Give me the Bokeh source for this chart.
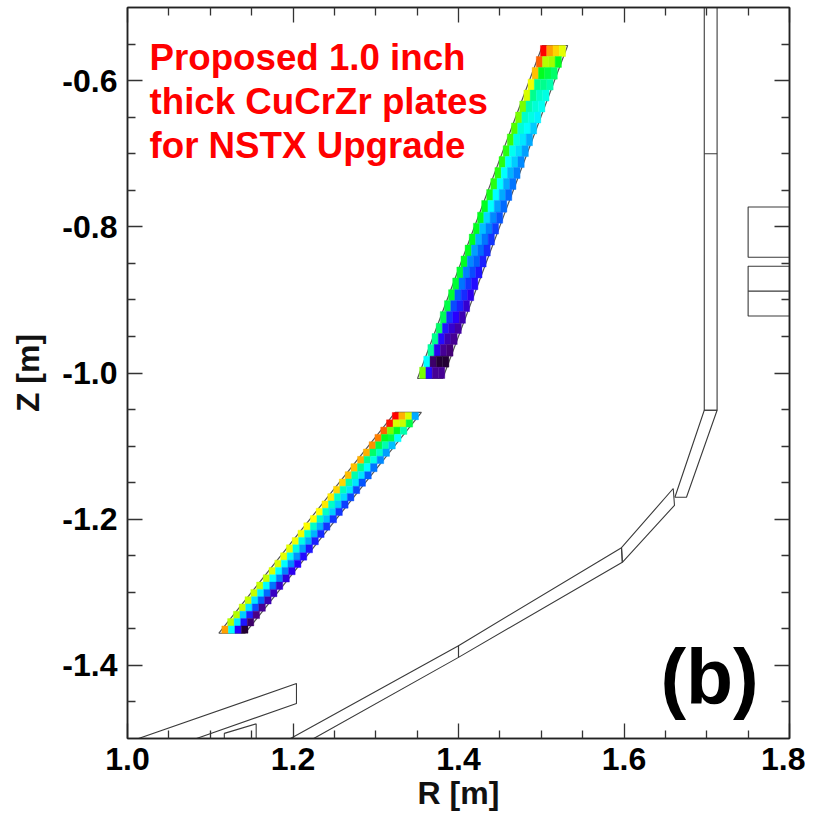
from bokeh.plotting import figure
from bokeh.embed import file_html
from bokeh.resources import INLINE
from bokeh.core.properties import value
from bokeh.models import (ColumnDataSource, LinearColorMapper, LinearAxis, FixedTicker, Range1d)

# ---- colour values (each row: inner to outer cell), top to bottom
upper_values = [
    [100, 82, 76, 68], [90, 62, 60, 52], [78, 52, 50, 48], [70, 46, 46, 44], [66, 46, 42, 40],
    [58, 44, 41, 39], [58, 42, 40, 37], [56, 41, 38, 34], [55, 40, 36, 31], [54, 39, 35, 30],
    [54, 38, 34, 28], [54, 38, 32, 27], [54, 38, 31, 26], [53, 38, 31, 25], [52, 38, 30, 25],
    [52, 35, 28, 23], [52, 33, 27, 21], [52, 32, 26, 20], [52, 30, 25, 19], [52, 28, 24, 18],
    [51, 27, 22, 17], [51, 26, 20, 16], [51, 24, 19, 14], [50, 22, 18, 12], [49, 20, 15, 10],
    [48, 17, 12, 9], [46, 16, 10, 8], [45, 14, 8, 6], [38, 5, 1, 1], [58, 16, 8, 8],
]
lower_values = [
    [100, 80, 66, 31], [98, 66, 64, 50], [90, 58, 52, 44], [86, 52, 50, 38], [84, 50, 44, 33],
    [80, 48, 42, 30], [80, 46, 40, 28], [78, 46, 38, 26], [78, 44, 36, 24], [76, 44, 36, 23],
    [76, 43, 36, 22], [74, 42, 35, 22], [74, 42, 34, 21], [72, 42, 34, 20], [72, 42, 33, 20],
    [72, 42, 32, 20], [70, 41, 32, 19], [70, 40, 31, 18], [68, 40, 30, 17], [68, 39, 29, 16],
    [66, 38, 28, 15], [66, 38, 27, 14], [64, 38, 27, 13], [64, 38, 26, 12], [64, 37, 25, 11],
    [64, 36, 24, 10], [64, 36, 22, 8], [62, 34, 18, 7], [62, 36, 17, 5], [82, 38, 15, 1],
]
upper_left = [1.499, 1.494, 1.489, 1.484, 1.479, 1.474, 1.469, 1.464, 1.459, 1.454, 1.449, 1.444, 1.439, 1.434, 1.428,
              1.423, 1.418, 1.413, 1.408, 1.403, 1.398, 1.393, 1.388, 1.383, 1.378, 1.373, 1.368, 1.363, 1.358, 1.353]
upper_top = [-0.552, -0.567, -0.582, -0.598, -0.613, -0.628, -0.643, -0.658, -0.673, -0.689, -0.704, -0.719, -0.734,
             -0.749, -0.764, -0.780, -0.795, -0.810, -0.825, -0.840, -0.855, -0.870, -0.886, -0.901, -0.916, -0.932,
             -0.946, -0.961, -0.977, -0.992, -1.0075]
upper_dr = 0.0076
lower_left = [1.320, 1.313, 1.306, 1.299, 1.292, 1.285, 1.278, 1.270, 1.263, 1.256, 1.249, 1.242, 1.235, 1.228, 1.221,
              1.213, 1.206, 1.199, 1.192, 1.185, 1.178, 1.171, 1.164, 1.156, 1.149, 1.142, 1.135, 1.128, 1.121, 1.114]
lower_top = [-1.054, -1.064, -1.074, -1.084, -1.094, -1.104, -1.114, -1.124, -1.135, -1.145, -1.155, -1.165, -1.175,
             -1.185, -1.195, -1.205, -1.215, -1.225, -1.235, -1.246, -1.256, -1.266, -1.276, -1.286, -1.296, -1.306,
             -1.316, -1.326, -1.336, -1.346, -1.356]
lower_dr = 0.0079

# ---- machine outlines (R, Z)
shapes = [
    ([1.697, 1.7125, 1.7125, 1.697], [-0.5, -0.5, -1.051, -1.051]),
    ([1.7125, 1.6755, 1.6615, 1.697], [-1.051, -1.170, -1.170, -1.051]),
    ([1.6595, 1.661, 1.598, 1.597], [-1.158, -1.181, -1.259, -1.239]),
    ([1.598, 1.40, 1.40, 1.597], [-1.259, -1.389, -1.373, -1.239]),
    ([1.40, 1.225, 1.197, 1.40], [-1.389, -1.50, -1.50, -1.373]),
    ([1.0133, 1.2042, 1.2042, 1.0834], [-1.50, -1.4248, -1.452, -1.50]),
    ([1.117, 1.117, 1.1555, 1.1555], [-1.50, -1.493, -1.48, -1.50]),
    ([1.75, 1.80, 1.80, 1.75], [-0.773, -0.773, -0.8416, -0.8416]),
    ([1.75, 1.80, 1.80, 1.75], [-0.854, -0.854, -0.922, -0.922]),
]
dividers_r = [[1.697, 1.7125], [1.75, 1.80]]
dividers_z = [[-0.70, -0.70], [-0.888, -0.888]]

x_ticks = [1.0, 1.2, 1.4, 1.6, 1.8]
y_ticks = [-1.4, -1.2, -1.0, -0.8, -0.6]
x_minor = [1.05, 1.1, 1.15, 1.25, 1.3, 1.35, 1.45, 1.5, 1.55, 1.65, 1.7, 1.75]
y_minor = [-1.45, -1.35, -1.3, -1.25, -1.15, -1.1, -1.05, -0.95, -0.9, -0.85, -0.75, -0.7, -0.65, -0.55]
x_labels = ["1.0", "1.2", "1.4", "1.6", "1.8"]
y_labels = ["-1.4", "-1.2", "-1.0", "-0.8", "-0.6"]
note_lines = ["Proposed 1.0 inch", "thick CuCrZr plates", "for NSTX Upgrade"]
note_z = [-0.568, -0.6286, -0.6888]
FONT = "Liberation Sans"

# colour scale: dark purple through blue, cyan, green, yellow, to red
stops = [(0, "#1e0028"), (7, "#4a0085"), (15, "#2800ff"), (24, "#0060ff"), (32, "#00b4ff"), (38, "#00ffff"),
         (45, "#00ffa0"), (52, "#00ff20"), (56, "#50ff00"), (60, "#a0ff00"), (66, "#d8ff00"), (72, "#ffff00"),
         (78, "#ffc000"), (84, "#ff9000"), (90, "#ff6000"), (100, "#ff0000")]


def palette_from(st, n=101):
    out = []
    for i in range(n):
        for (a, ca), (b, cb) in zip(st[:-1], st[1:]):
            if a <= i <= b:
                t = (i - a) / (b - a)
                rgb = [round(int(ca[k:k + 2], 16) * (1 - t) + int(cb[k:k + 2], 16) * t) for k in (1, 3, 5)]
                out.append("#%02x%02x%02x" % tuple(rgb))
                break
    return out


mapper = LinearColorMapper(palette=palette_from(stops), low=0, high=100)

p = figure(width=805, height=813, output_backend="svg", toolbar_location=None,
           x_range=Range1d(1.0, 1.8), y_range=Range1d(-1.5, -0.5),
           min_border_left=127, min_border_right=16, min_border_top=7, min_border_bottom=75)
p.grid.visible = False
p.outline_line_color = "#222222"
p.outline_line_width = 1.5


def style_axis(ax, ticks, minor, show):
    ax.ticker = FixedTicker(ticks=ticks, minor_ticks=minor)
    ax.major_tick_in = 15
    ax.major_tick_out = 0
    ax.minor_tick_in = 8
    ax.minor_tick_out = 0
    ax.axis_line_color = "#222222"
    ax.axis_line_width = 1.5
    ax.major_tick_line_color = "#333333"
    ax.minor_tick_line_color = "#333333"
    ax.major_tick_line_width = 1.3
    ax.minor_tick_line_width = 1.3
    if show:
        ax.major_label_text_font = FONT
        ax.major_label_text_font_style = "bold"
        ax.major_label_text_font_size = "32px"
        ax.major_label_text_color = "black"
        ax.axis_label_text_font = FONT
        ax.axis_label_text_font_style = "bold"
        ax.axis_label_text_font_size = "32px"
        ax.axis_label_text_color = "#111111"
    else:
        ax.major_label_text_font_size = "0px"
        ax.major_label_text_color = None


xa = p.xaxis[0]
ya = p.yaxis[0]
style_axis(xa, x_ticks, x_minor, True)
style_axis(ya, y_ticks, y_minor, True)
xa.major_label_overrides = dict(zip(x_ticks, x_labels))
ya.major_label_overrides = dict(zip(y_ticks, y_labels))
xa.major_label_standoff = 9
ya.major_label_standoff = 10
xa.axis_label = "R [m]"
ya.axis_label = "Z [m]"
xa.axis_label_standoff = 2
ya.axis_label_standoff = 13

top_ax = LinearAxis()
right_ax = LinearAxis()
style_axis(top_ax, x_ticks, x_minor, False)
style_axis(right_ax, y_ticks, y_minor, False)
top_ax.major_label_overrides = {t: "" for t in x_ticks}
right_ax.major_label_overrides = {t: "" for t in y_ticks}
p.add_layout(top_ax, "above")
p.add_layout(right_ax, "right")

for rs, zs in shapes:
    p.patch(rs, zs, fill_color=None, line_color="#3a3a3a", line_width=1.1)
p.multi_line(dividers_r, dividers_z, line_color="#3a3a3a", line_width=1.1)


def plate(values, left, top, dr):
    n = len(values)
    m = len(values[0])
    step = (left[0] - left[n - 1]) / (n - 1)
    # thin grey outline running through the middle of the stair-stepped cell edges
    p.patch([left[0] + step / 2, left[0] + m * dr + step / 2, left[n - 1] + m * dr - step / 2, left[n - 1] - step / 2],
            [top[0], top[0], top[n], top[n]], fill_color=None, line_color="#555555", line_width=1.2)
    cols = dict(l=[], r=[], t=[], b=[], v=[])
    for i, row in enumerate(values):
        for j, val in enumerate(row):
            cols["l"].append(left[i] + j * dr)
            cols["r"].append(left[i] + (j + 1) * dr)
            cols["t"].append(top[i])
            cols["b"].append(top[i + 1])
            cols["v"].append(val)
    src = ColumnDataSource(cols)
    p.quad(left="l", right="r", top="t", bottom="b", source=src,
           fill_color={"field": "v", "transform": mapper},
           line_color={"field": "v", "transform": mapper}, line_width=0.4)


plate(upper_values, upper_left, upper_top, upper_dr)
plate(lower_values, lower_left, lower_top, lower_dr)

p.text(x=[1.0266] * 3, y=note_z, text=note_lines, text_color="#ff0000",
       text_font=value(FONT), text_font_style="bold", text_font_size="36.7px",
       text_baseline="middle", text_align="left")
p.text(x=[1.644], y=[-1.4155], text=["(b)"], text_color="black",
       text_font=value(FONT), text_font_style="bold", text_font_size="77px",
       text_baseline="middle", text_align="left")

open("out.html", "w").write(file_html(p, INLINE))
